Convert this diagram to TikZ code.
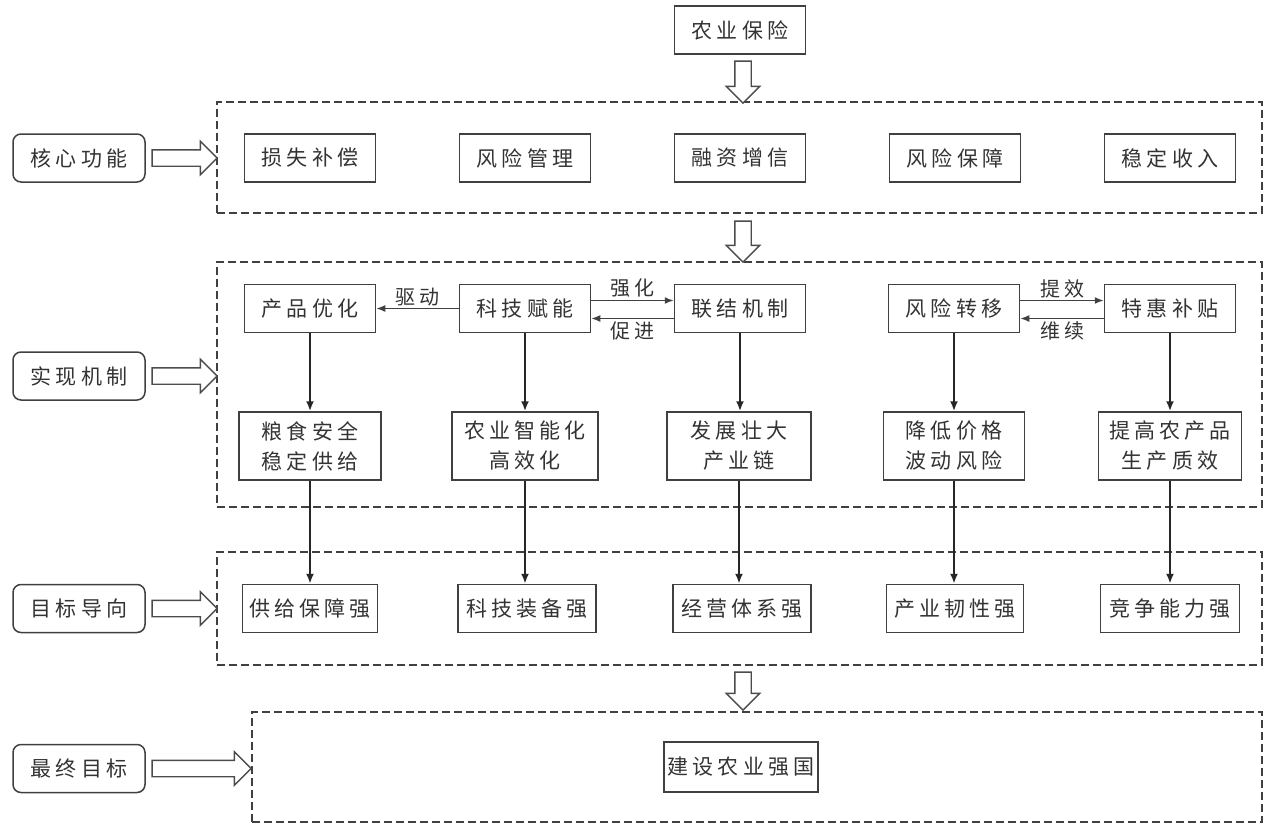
\documentclass[tikz,border=0pt]{standalone}
\usepackage{fontspec}
\newfontfamily\cjk[LetterSpace=20]{Noto Sans CJK SC}
\usetikzlibrary{arrows.meta}
\usetikzlibrary{shapes.arrows}

\tikzset{
	box/.style={draw=black!75, line width=1.5pt, minimum width=131pt, minimum height=48pt, inner xsep=3pt, align=center, text=black!80, font=\cjk\fontsize{21}{30}\selectfont},
	tag/.style={box, rounded corners=8pt},
	group/.style={draw=black!75, line width=1.4pt, dash pattern=on 8pt off 4pt},
	hollow/.style={single arrow, draw=black!70, line width=1.4pt, fill=white, inner xsep=0pt, inner ysep=7.5pt, minimum width=32pt, single arrow head extend=8.5pt},
	link/.style={-{Latex[length=10pt,width=8pt]}, line width=2.8pt, black!85},
	flow/.style={-{Latex[length=9pt,width=7pt]}, line width=1.6pt, black!75},
	note/.style={inner sep=2pt, text=black!80, font=\cjk\fontsize{20}{24}\selectfont},
}

\begin{document}
\begin{tikzpicture}[x=1pt,y=-1pt]
	\useasboundingbox (0,0) rectangle (1269,828);
	
	% dashed groups
	\node[group, minimum width=1045pt, minimum height=111pt] (core) at (739.5,157.5) {};
	\node[group, minimum width=1045pt, minimum height=245pt] (mech) at (739.5,384.5) {};
	\node[group, minimum width=1045pt, minimum height=113pt] (goal) at (739.5,608.5) {};
	\node[group, minimum width=1010pt, minimum height=110pt] (final) at (757,767) {};
	
	\node[box] (nybx) at (740,30) {农业保险};
	
	% left tags
	\node[tag, minimum width=132pt] (hxgn) at (79,158) {核心功能};
	\node[tag, minimum width=132pt] (sxjz) at (79,376) {实现机制};
	\node[tag, minimum width=132pt] (mbdx) at (79,608.5) {目标导向};
	\node[tag, minimum width=132pt] (zzmb) at (79,768.5) {最终目标};
	
	% hollow arrows
	\node[hollow, minimum height=42pt, rotate=-90] (da1) at (743,78) {};
	\node[hollow, minimum height=41pt, rotate=-90] (da2) at (743,237.5) {};
	\node[hollow, minimum height=38pt, rotate=-90] (da3) at (743,687) {};
	\node[hollow, minimum height=65pt] (ra1) at (180.5,158) {};
	\node[hollow, minimum height=65pt] (ra2) at (180.5,376) {};
	\node[hollow, minimum height=65pt] (ra3) at (180.5,608.5) {};
	\node[hollow, minimum height=99pt] (ra4) at (197.5,768.5) {};
	
	% core functions
	\node[box] (sbc) at (310,158) {损失补偿};
	\node[box] (fxgl) at (525,158) {风险管理};
	\node[box] (rzzx) at (740,158) {融资增信};
	\node[box] (fxbz) at (955,158) {风险保障};
	\node[box] (wdsr) at (1170,158) {稳定收入};
	
	% mechanisms
	\node[box] (cpyh) at (310,308.5) {产品优化};
	\node[box] (kjfn) at (525,308.5) {科技赋能};
	\node[box] (ljjz) at (740,308.5) {联结机制};
	\node[box] (fxzy) at (954,308.5) {风险转移};
	\node[box] (thbt) at (1170,308.5) {特惠补贴};
	
	\node[box, minimum width=142pt, minimum height=68pt] (lsaq) at (310,446) {粮食安全\\稳定供给};
	\node[box, minimum width=146pt, minimum height=68pt] (nyzn) at (525,446) {农业智能化\\高效化};
	\node[box, minimum width=144pt, minimum height=68pt] (fzzd) at (739,446) {发展壮大\\产业链};
	\node[box, minimum width=141pt, minimum height=68pt] (djjg) at (954,446) {降低价格\\波动风险};
	\node[box, minimum width=143pt, minimum height=68pt] (tgnc) at (1170,446) {提高农产品\\生产质效};
	
	% goals
	\node[box, minimum width=135pt] (gjbz) at (310,608.5) {供给保障强};
	\node[box, minimum width=138pt] (kjzb) at (527,608.5) {科技装备强};
	\node[box, minimum width=138pt] (jytx) at (742,608.5) {经营体系强};
	\node[box, minimum width=137pt] (cyrx) at (955,608.5) {产业韧性强};
	\node[box, minimum width=139pt] (jznl) at (1170,608.5) {竞争能力强};
	
	\node[box, minimum width=154pt, minimum height=50pt, inner xsep=1pt] (jsny) at (741,767) {建设农业强国};
	
	% horizontal links
	\draw[flow] (kjfn.west) -- node[note, above] {驱动} (cpyh.east);
	\draw[flow] ([yshift=8pt]kjfn.east) -- node[note, above] {强化} ([yshift=8pt]ljjz.west);
	\draw[flow] ([yshift=-10pt]ljjz.west) -- node[note, below] {促进} ([yshift=-10pt]kjfn.east);
	\draw[flow] ([yshift=8pt]fxzy.east) -- node[note, above] {提效} ([yshift=8pt]thbt.west);
	\draw[flow] ([yshift=-10pt]thbt.west) -- node[note, below] {维续} ([yshift=-10pt]fxzy.east);
	
	% vertical links
	\draw[link] (cpyh.south) -- (lsaq.north);
	\draw[link] (kjfn.south) -- (nyzn.north);
	\draw[link] (ljjz.south) -- (ljjz.south |- fzzd.north);
	\draw[link] (fxzy.south) -- (djjg.north);
	\draw[link] (thbt.south) -- (tgnc.north);
	
	\draw[link] (lsaq.south) -- (gjbz.north);
	\draw[link] (nyzn.south) -- (nyzn.south |- kjzb.north);
	\draw[link] (fzzd.south) -- (fzzd.south |- jytx.north);
	\draw[link] (djjg.south) -- (djjg.south |- cyrx.north);
	\draw[link] (tgnc.south) -- (jznl.north);
	
\end{tikzpicture}
\end{document}
